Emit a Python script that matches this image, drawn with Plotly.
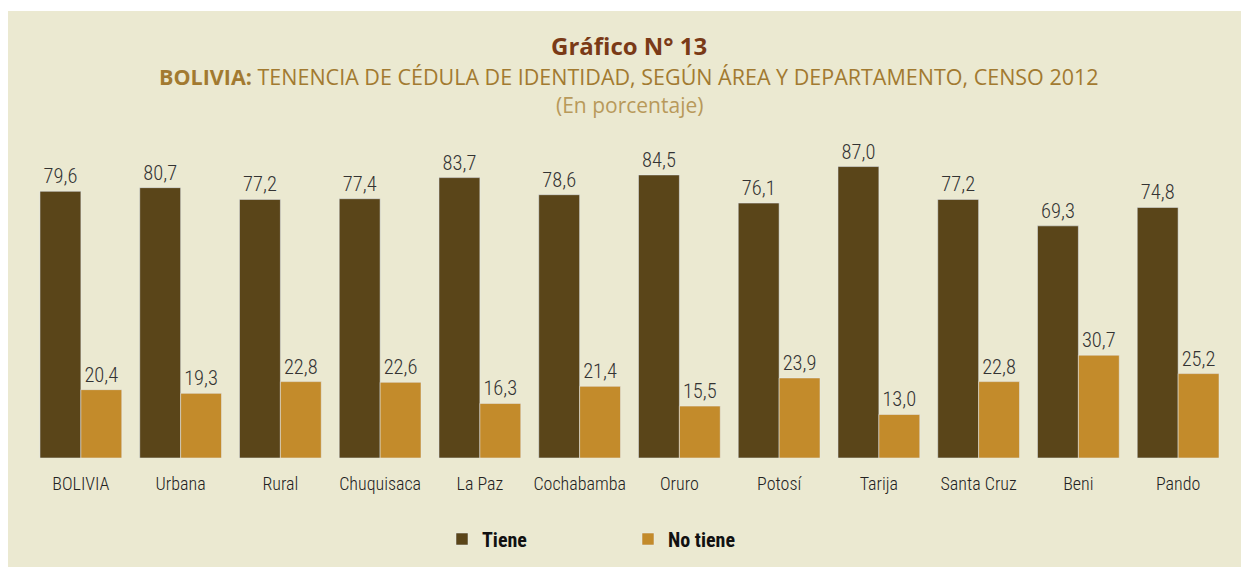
import plotly.graph_objects as go

categories = ["BOLIVIA", "Urbana", "Rural", "Chuquisaca", "La Paz", "Cochabamba",
              "Oruro", "Potosí", "Tarija", "Santa Cruz", "Beni", "Pando"]
tiene = [79.6, 80.7, 77.2, 77.4, 83.7, 78.6, 84.5, 76.1, 87.0, 77.2, 69.3, 74.8]
no_tiene = [20.4, 19.3, 22.8, 22.6, 16.3, 21.4, 15.5, 23.9, 13.0, 22.8, 30.7, 25.2]
series_names = ["<b>Tiene</b>", "<b>No tiene</b>"]

COND = "Roboto Condensed, Liberation Sans Narrow, sans-serif"
BG = "#ebe9d1"

fig = go.Figure()
fig.add_trace(go.Bar(
    x=categories, y=tiene, name=series_names[0], marker_color="#5a4519",
    texttemplate="%{y:.1f}", textposition="outside", cliponaxis=False,
    textfont=dict(family=COND, size=20.5, color="#333333", weight=300),
))
fig.add_trace(go.Bar(
    x=categories, y=no_tiene, name=series_names[1], marker_color="#c38b2b",
    texttemplate="%{y:.1f}", textposition="outside", cliponaxis=False,
    textfont=dict(family=COND, size=20.5, color="#333333", weight=300),
))

W, H = 1241, 567
ml, mr, mt, mb = 31, 13, 123, 109
pw = W - ml - mr
ph = H - mt - mb

fig.update_layout(
    width=W, height=H,
    margin=dict(l=ml, r=mr, t=mt, b=mb, autoexpand=False),
    paper_bgcolor="white", plot_bgcolor=BG,
    separators=",.",
    barmode="group", bargap=0.18, bargroupgap=0,
    showlegend=True,
    legend=dict(orientation="h", x=(452 - 10 - ml) / pw, xanchor="left",
                y=(H - mb - 539) / ph, yanchor="middle",
                font=dict(family=COND, size=20, color="#111"),
                entrywidth=141, entrywidthmode="pixels",
                bgcolor="rgba(0,0,0,0)", traceorder="normal"),
    xaxis=dict(showgrid=False, showline=False, zeroline=False, automargin=False,
               ticks="outside", ticklen=9, tickcolor="rgba(0,0,0,0)",
               tickfont=dict(family=COND, size=18, color="#222", weight=300)),
    yaxis=dict(range=[0, 100], visible=False, showgrid=False, zeroline=False),
    font=dict(family=COND),
)

# beige panel behind everything
fig.add_shape(type="rect", xref="paper", yref="paper",
              x0=(8 - ml) / pw, x1=(W - ml) / pw,
              y0=-mb / ph, y1=(H - mb - 11) / ph,
              fillcolor=BG, line_width=0, layer="below")

TF = "Open Sans, sans-serif"
fig.add_annotation(text="<b>Gráfico N° 13</b>", xref="paper", yref="paper",
                   x=(629 - ml) / pw, y=(H - mb - 46) / ph, yanchor="middle",
                   showarrow=False, font=dict(family=TF, size=24, color="#7a3a17"))
fig.add_annotation(text="<b>BOLIVIA:</b> TENENCIA DE CÉDULA DE IDENTIDAD, SEGÚN ÁREA Y DEPARTAMENTO, CENSO 2012",
                   xref="paper", yref="paper",
                   x=(629 - ml) / pw, y=(H - mb - 76) / ph, yanchor="middle",
                   showarrow=False, font=dict(family=TF, size=21.5, color="#a27a30"))
fig.add_annotation(text="(En porcentaje)", xref="paper", yref="paper",
                   x=(629 - ml) / pw, y=(H - mb - 105) / ph, yanchor="middle",
                   showarrow=False, font=dict(family=TF, size=21, color="#b8995a"))

fig.write_html("out.html", config={"displayModeBar": False},
               post_script="document.body.style.margin='0';")
